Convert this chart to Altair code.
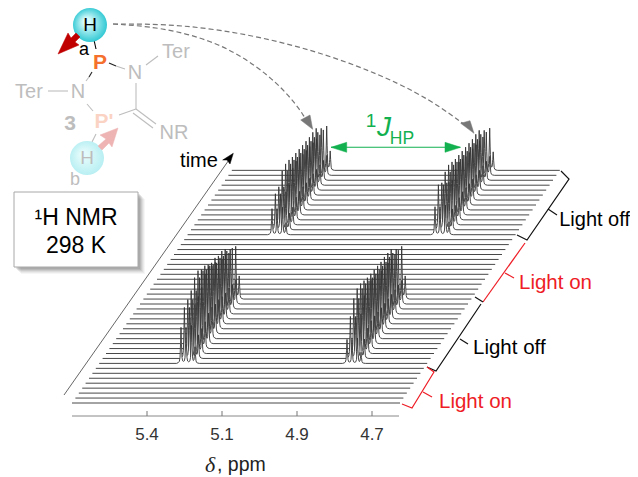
import altair as alt
import numpy as np
import pandas as pd

# ---- waterfall spectrum values ----
N_ROWS = 48
ROW_DY, ROW_DX = 4.95, 3.4
BASE_Y, X_LEFT, X_RIGHT = 403, 72, 400
LIT_ROWS_LOW = 8
LIT_ROWS_HIGH = 34
PEAK_OFFSETS = [0, 5, 10.5, 14]
PEAK_REL = [1.0, 1.0, 1.05, 0.45]
SHAPE_DX = [-4.5, -2.8, -1.6, -1.0, -0.45, 0, 0.45, 1.0, 1.6, 2.8, 4.5]
SHAPE_RY = [0, 0.02, 0.06, 0.16, 0.55, 1, 0.55, 0.16, 0.06, 0.02, 0]
GROUPS = [
    (LIT_ROWS_LOW, 181, [36, 51, 54, 58, 66, 68, 64, 63, 59, 56, 56, 53, 53, 50]),
    (LIT_ROWS_LOW, 347, [24, 42, 55, 60, 60, 58, 56, 55, 54, 53, 52, 52, 51, 50]),
    (LIT_ROWS_HIGH, 272, [26, 36, 38, 49, 51, 50, 48, 47, 46, 45, 44, 43, 43, 42]),
    (LIT_ROWS_HIGH, 435, [28, 45, 42, 48, 50, 48, 46, 45, 44, 43, 42, 41, 41, 40]),
]

TICK_POS = [147, 222, 297, 372]
TICK_LABELS = ["5.4", "5.1", "4.9", "4.7"]


rows = []
for r in range(N_ROWS - 1, -1, -1):
    shift = r * ROW_DX
    base = BASE_Y - r * ROW_DY
    centers, heights = [], []
    for start, x0, hs in GROUPS:
        if start <= r < start + len(hs):
            for o, rel in zip(PEAK_OFFSETS, PEAK_REL):
                centers.append(x0 + o + (r - start) * ROW_DX)
                heights.append(hs[r - start] * rel)
    grid = {X_LEFT + shift, X_RIGHT + shift}
    for c in centers:
        grid.update(c + d for d in SHAPE_DX)
    xs = np.array(sorted(grid))
    ys = np.zeros_like(xs)
    for c, h in zip(centers, heights):
        ys = ys + h * np.interp(xs, np.array(SHAPE_DX) + c, SHAPE_RY)
    for i, (a, b) in enumerate(zip(xs, ys)):
        rows.append({"row": f"r{r:02d}", "i": i, "x": float(a), "y": float(base - b)})
trace_df = pd.DataFrame(rows)

X = alt.X("x:Q", scale=alt.Scale(domain=[8, 630]), axis=None)
Y = alt.Y("y:Q", scale=alt.Scale(domain=[477, 8]), axis=None)
X2 = alt.X2("x2:Q")
Y2 = alt.Y2("y2:Q")

layers = []


def poly(points, color, width=1.0, dash=None, fill=None, interpolate="linear", opacity=None):
    df = pd.DataFrame({"i": range(len(points)), "x": [p[0] for p in points], "y": [p[1] for p in points]})
    kw = dict(stroke=color, strokeWidth=width, interpolate=interpolate)
    if dash:
        kw["strokeDash"] = dash
    if fill:
        kw["fill"] = fill
    if opacity is not None:
        kw["opacity"] = opacity
    layers.append(alt.Chart(df).mark_line(**kw).encode(x=X, y=Y, order=alt.Order("i:Q")))


def text(x, y, s, size=17, color="black", align="center", weight=None, style=None, font="Liberation Sans"):
    kw = dict(fontSize=size, color=color, align=align, baseline="middle", font=font)
    if weight:
        kw["fontWeight"] = weight
    if style:
        kw["fontStyle"] = style
    layers.append(alt.Chart(pd.DataFrame({"x": [x], "y": [y], "t": [s]})).mark_text(**kw).encode(x=X, y=Y, text="t:N"))


def circle(x, y, r, inner, outer):
    grad = alt.RadialGradient(gradient="radial", x1=0.4, y1=0.4, r1=0.1, x2=0.5, y2=0.5, r2=0.55,
                              stops=[alt.GradientStop(offset=0, color=inner), alt.GradientStop(offset=1, color=outer)])
    layers.append(alt.Chart(pd.DataFrame({"x": [x], "y": [y]})).mark_point(
        shape="circle", filled=True, fill=grad, opacity=1, strokeWidth=0, size=4 * r * r
    ).encode(x=X, y=Y))


# box with soft shadow
BOX = (14, 192, 138, 267)
for off, op in [(7, 0.05), (6, 0.07), (5, 0.09), (4, 0.12), (3, 0.15), (2, 0.15)]:
    d = pd.DataFrame({"x": [BOX[0] + off], "x2": [BOX[2] + off], "y": [BOX[1] + off], "y2": [BOX[3] + off]})
    layers.append(alt.Chart(d).mark_rect(color="#555555", opacity=op).encode(x=X, x2=X2, y=Y, y2=Y2))
d = pd.DataFrame({"x": [BOX[0]], "x2": [BOX[2]], "y": [BOX[1]], "y2": [BOX[3]]})
layers.append(alt.Chart(d).mark_rect(fill="white", stroke="#a8a8a8", strokeWidth=1).encode(x=X, x2=X2, y=Y, y2=Y2))
text(76, 218, "¹H NMR", 23)
text(76, 246, "298 K", 23)

# molecule
GREY = "#bdbdbd"
for seg, col in [
    ([(94, 40), (96, 49)], "black"),
    ([(109, 63), (116, 66)], "#222222"), ([(116, 66), (125, 69)], GREY),
    ([(92, 72), (89, 77)], "#222222"), ([(89, 77), (86, 81)], GREY),
    ([(146, 65), (158, 56)], GREY), ([(48, 91), (68, 91)], GREY),
    ([(87, 104), (93, 111)], GREY), ([(119, 115), (136, 109)], GREY),
    ([(136, 83), (136, 109)], GREY), ([(136, 109), (156, 124)], GREY), ([(133, 113), (153, 128)], GREY),
    ([(96, 134), (92, 142)], GREY),
]:
    poly(seg, col, 1.1)
circle(87, 158, 17, "#e4fbfb", "#b4eef2")
circle(90, 25, 17, "#d8fbfb", "#22c4d0")
text(90, 25, "H", 19)
text(87, 158, "H", 19, GREY)
text(84, 50, "a", 18)
text(75, 180, "b", 18, GREY)
text(100, 63, "P", 21, "#f5702c", weight="bold")
text(104, 122, "P'", 21, "#fbd3c4", weight="bold")
text(135, 73, "N", 20, GREY)
text(78, 92, "N", 20, GREY)
text(176, 52, "Ter", 20, GREY)
text(29, 92, "Ter", 20, GREY)
text(174, 133, "NR", 20, GREY)
text(70, 124, "3", 21, GREY, weight="bold")
poly([(58, 54), (68, 33), (71, 38), (76, 33), (80, 37), (75, 42), (79, 45), (58, 54)], "#c00000", 0.5, fill="#c00000")
poly([(118, 128), (100, 135), (106, 139), (98, 146), (102, 150), (109, 143), (112, 147), (118, 128)], "#eeb4b4", 0.5, fill="#eeb4b4")

# dashed arrows
poly([(113, 24), (160, 27), (220, 42), (270, 75), (297, 105), (305, 118)], "#777777", 1.2, dash=[5, 3], interpolate="basis")
poly([(113, 24), (180, 24), (260, 36), (340, 58), (420, 92), (465, 125)], "#777777", 1.2, dash=[5, 3], interpolate="basis")
poly([(312.7, 129.3), (300.7, 120), (310, 115), (312.7, 129.3)], "#777777", 0.5, fill="#777777")
poly([(474, 133.3), (460.7, 123.3), (470, 120.7), (474, 133.3)], "#777777", 0.5, fill="#777777")

# time arrow
poly([(64, 395), (231, 157)], "#555555", 0.9)
poly([(233.3, 153.3), (222.7, 160), (227, 160), (230, 164), (233.3, 153.3)], "black", 0.5, fill="black")
text(199, 161, "time", 20)

# J coupling
GREEN = "#12b04f"
poly([(331, 147.3), (460, 147.3)], GREEN, 1.1)
poly([(331, 147.3), (346.7, 142.3), (346.7, 152.3), (331, 147.3)], GREEN, 0.5, fill=GREEN)
poly([(460.7, 147.3), (445, 142.3), (445, 152.3), (460.7, 147.3)], GREEN, 0.5, fill=GREEN)
text(371, 121, "1", 19, GREEN)
text(384, 128, "J", 28, GREEN, style="italic")
text(402, 139, "HP", 17.5, GREEN)

# spectra: back row first, so that nearer rows cover farther ones
layers.append(
    alt.Chart(trace_df).mark_line(stroke="#333333", strokeWidth=0.9, fill="white").encode(
        x=X, y=Y, detail="row:N", order=alt.Order("i:Q")
    )
)

# axis
AXIS_Y = 416
poly([(72, AXIS_Y), (399, AXIS_Y)], "#888888", 1.0)
for p, lab in zip(TICK_POS, TICK_LABELS):
    poly([(p, AXIS_Y - 5), (p, AXIS_Y)], "#777777", 1.0)
    text(p, 435, lab, 17, "#333333")
text(210, 465, "δ", 22, "#222222", style="italic", font="Liberation Serif")
text(217, 465, ", ppm", 19.5, "#222222", align="left")

# brackets
BLACK = "#111111"
RED = "#ee1c25"
poly([(561, 171), (569, 179), (527, 240), (517, 235)], BLACK, 1.2)
poly([(548, 209), (557, 215)], BLACK, 1.2)
text(630, 220, "Light off", 20, "black", align="right")
poly([(525, 243), (483, 302)], RED, 1.2)
poly([(505, 273), (514, 278)], RED, 1.2)
poly([(483, 302), (475, 297)], BLACK, 1.2)
text(519, 283, "Light on", 20.5, RED, align="left")
poly([(481, 304), (436, 371), (427, 367)], BLACK, 1.2)
poly([(460, 339), (468, 344)], BLACK, 1.2)
text(473, 348, "Light off", 20.5, "black", align="left")
poly([(427, 367), (434, 372), (412, 408), (402, 404)], RED, 1.2)
poly([(423, 392), (432, 397)], RED, 1.2)
text(439, 402, "Light on", 20.5, RED, align="left")

chart = alt.layer(*layers).properties(
    width=622, height=469, padding=0, autosize=alt.AutoSizeParams(type="none")
).configure_view(stroke=None)
chart.save("out.html", embed_options={"renderer": "svg", "actions": False})
